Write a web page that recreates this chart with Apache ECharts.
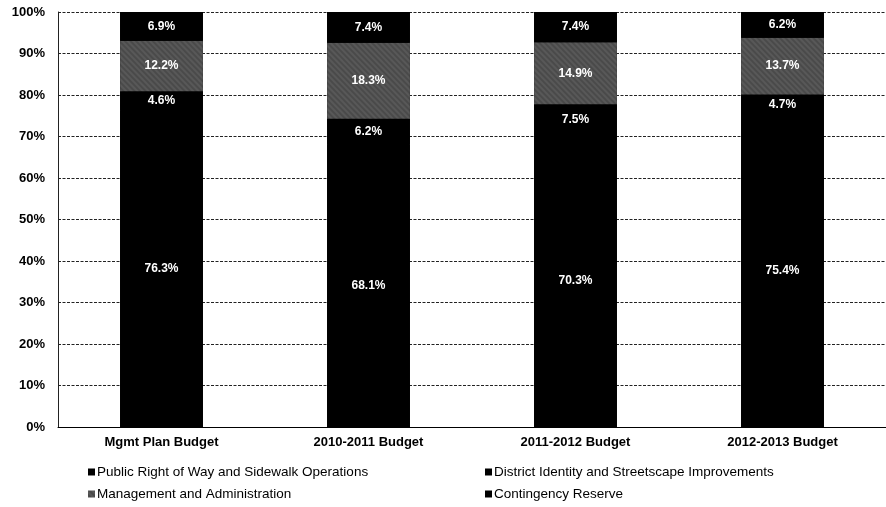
<!DOCTYPE html>
<html><head><meta charset="utf-8">
<script src="https://cdn.jsdelivr.net/npm/echarts@6/dist/echarts.min.js"></script>
<style>html,body{margin:0;padding:0;background:#fff}#c{width:886px;height:507px}</style>
</head><body><div id="c"></div>
<script>
const categories = ['Mgmt Plan Budget', '2010-2011 Budget', '2011-2012 Budget', '2012-2013 Budget'];
const publicRow = [76.3, 68.1, 70.3, 75.4];
const district = [4.6, 6.2, 7.5, 4.7];
const management = [12.2, 18.3, 14.9, 13.7];
const contingency = [6.9, 7.4, 7.4, 6.2];
const names = ['Public Right of Way and Sidewalk Operations', 'District Identity and Streetscape Improvements', 'Management and Administration', 'Contingency Reserve'];

const chart = echarts.init(document.getElementById('c'));
const font = 'Liberation Sans, Arial, sans-serif';
function ser(name, data, color, decal) {
  const s = {
    name, type: 'bar', stack: 'a', data, barWidth: '40%',
    itemStyle: { color },
    label: { show: true, position: 'inside', color: '#fff', fontWeight: 'bold', fontSize: 12, fontFamily: font,
      formatter: p => p.value.toFixed(1) + '%' },
    emphasis: { disabled: true }
  };
  if (decal) s.itemStyle.decal = decal;
  return s;
}
const dots = { symbol: 'rect', symbolSize: 0.45, color: 'rgba(255,255,255,0.35)', dashArrayX: [1, 0], dashArrayY: [2, 2], rotation: 0.8 };
function legendText() { return { fontSize: 13.5, fontFamily: font, color: '#000', padding: [0, 0, 0, -3] }; }
const first = ser(names[0], publicRow, '#000');
first.showBackground = true;
first.backgroundStyle = { color: '#000' };
chart.setOption({
  animation: false,
  grid: { left: 58, top: 12, width: 834, height: 415 },
  xAxis: {
    type: 'category', data: categories,
    axisLine: { lineStyle: { color: '#000', width: 1 } },
    axisTick: { show: false },
    axisLabel: { color: '#000', fontWeight: 'bold', fontSize: 13, fontFamily: font, margin: 9 }
  },
  yAxis: {
    type: 'value', min: 0, max: 100, interval: 10,
    axisLine: { show: true, lineStyle: { color: '#222' } },
    axisTick: { show: false },
    axisLabel: { color: '#000', fontWeight: 'bold', fontSize: 13, fontFamily: font, formatter: '{value}%', margin: 13 },
    splitLine: { lineStyle: { color: '#222', type: [3, 1.5], width: 1 } }
  },
  legend: [
    { left: 88, top: 465, height: 42, padding: 0, orient: 'vertical', itemGap: 8, itemWidth: 7, itemHeight: 7, icon: 'rect',
      textStyle: legendText(), data: [names[0], names[2]] },
    { left: 485, top: 465, height: 42, padding: 0, orient: 'vertical', itemGap: 8, itemWidth: 7, itemHeight: 7, icon: 'rect',
      textStyle: legendText(), data: [names[1], names[3]] }
  ],
  series: [
    first,
    ser(names[1], district, '#000'),
    ser(names[2], management, '#4a4a4a', dots),
    ser(names[3], contingency, '#000')
  ]
});
</script></body></html>
